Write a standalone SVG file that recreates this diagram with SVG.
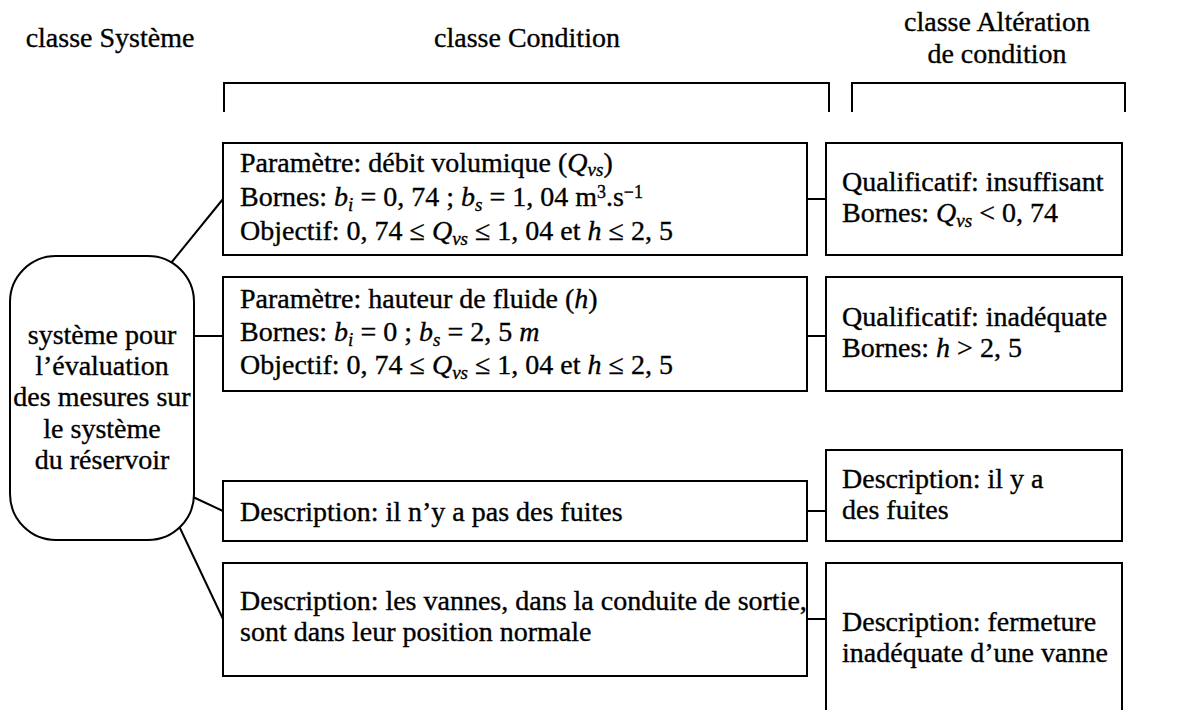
<svg xmlns="http://www.w3.org/2000/svg" width="1179" height="710" viewBox="0 0 1179 710">
<style>
text{font-family:"Liberation Serif","Times New Roman",serif;font-size:28px;fill:#000;stroke:#000;stroke-width:0.35}
.c{text-anchor:middle}
.i{font-style:italic}
.sub{font-style:italic;font-size:19px}
.sup{font-size:18px}
.box{fill:#fff;stroke:#000;stroke-width:2}
.ln{fill:none;stroke:#000;stroke-width:2}
</style>
<rect width="1179" height="710" fill="#fff"/>
<g id="headers">
<text class="c" x="110" y="47">classe Système</text>
<text class="c" x="527" y="47">classe Condition</text>
<text class="c" x="997" y="31">classe Altération</text>
<text class="c" x="997" y="63">de condition</text>
<path class="ln" d="M224,112 V83 H829 V112"/>
<path class="ln" d="M852,112 V83 H1125 V112"/>
</g>
<g id="connectors">
<line class="ln" x1="171" y1="263" x2="223" y2="199"/>
<line class="ln" x1="194" y1="336" x2="223" y2="336"/>
<line class="ln" x1="193" y1="497" x2="223" y2="511"/>
<line class="ln" x1="179" y1="526" x2="223" y2="619"/>
<line class="ln" x1="807" y1="199" x2="826" y2="199"/>
<line class="ln" x1="807" y1="336" x2="826" y2="336"/>
<line class="ln" x1="807" y1="511" x2="826" y2="511"/>
<line class="ln" x1="807" y1="619" x2="826" y2="619"/>
</g>
<g id="systeme">
<rect class="box" x="10" y="256" width="184" height="284" rx="46" ry="46"/>
<text class="c" x="102" y="344">système pour</text>
<text class="c" x="102" y="375">l’évaluation</text>
<text class="c" x="102" y="406">des mesures sur</text>
<text class="c" x="102" y="438">le système</text>
<text class="c" x="102" y="469">du réservoir</text>
</g>
<g id="cond1">
<rect class="box" x="223" y="143" width="584" height="112"/>
<text x="240" y="172">Paramètre: débit volumique (<tspan class="i">Q</tspan><tspan class="sub" dy="4">vs</tspan><tspan dy="-4">)</tspan></text>
<text x="240" y="206">Bornes: <tspan class="i">b</tspan><tspan class="sub" dy="5">i</tspan><tspan dy="-5"> = 0, 74 ; </tspan><tspan class="i">b</tspan><tspan class="sub" dy="5">s</tspan><tspan dy="-5"> = 1, 04 m</tspan><tspan class="sup" dy="-8">3</tspan><tspan dy="8">.s</tspan><tspan class="sup" dy="-8">−1</tspan></text>
<text x="240" y="240">Objectif: 0, 74 ≤ <tspan class="i">Q</tspan><tspan class="sub" dy="5">vs</tspan><tspan dy="-5"> ≤ 1, 04 et </tspan><tspan class="i">h</tspan> ≤ 2, 5</text>
</g>
<g id="alt1">
<rect class="box" x="826" y="143" width="296" height="112"/>
<text x="842" y="191">Qualificatif: insuffisant</text>
<text x="842" y="222">Bornes: <tspan class="i">Q</tspan><tspan class="sub" dy="5">vs</tspan><tspan dy="-5"> &lt; 0, 74</tspan></text>
</g>
<g id="cond2">
<rect class="box" x="223" y="277" width="584" height="114"/>
<text x="240" y="308">Paramètre: hauteur de fluide (<tspan class="i">h</tspan>)</text>
<text x="240" y="341">Bornes: <tspan class="i">b</tspan><tspan class="sub" dy="5">i</tspan><tspan dy="-5"> = 0 ; </tspan><tspan class="i">b</tspan><tspan class="sub" dy="5">s</tspan><tspan dy="-5"> = 2, 5 </tspan><tspan class="i">m</tspan></text>
<text x="240" y="374">Objectif: 0, 74 ≤ <tspan class="i">Q</tspan><tspan class="sub" dy="5">vs</tspan><tspan dy="-5"> ≤ 1, 04 et </tspan><tspan class="i">h</tspan> ≤ 2, 5</text>
</g>
<g id="alt2">
<rect class="box" x="826" y="277" width="296" height="114"/>
<text x="842" y="326">Qualificatif: inadéquate</text>
<text x="842" y="357">Bornes: <tspan class="i">h</tspan> &gt; 2, 5</text>
</g>
<g id="cond3">
<rect class="box" x="223" y="481" width="584" height="60"/>
<text x="240" y="521">Description: il n’y a pas des fuites</text>
</g>
<g id="alt3">
<rect class="box" x="826" y="450" width="296" height="91"/>
<text x="842" y="488">Description: il y a</text>
<text x="842" y="519">des fuites</text>
</g>
<g id="cond4">
<rect class="box" x="223" y="563" width="584" height="113"/>
<text x="240" y="610">Description: les vannes, dans la conduite de sortie,</text>
<text x="240" y="641">sont dans leur position normale</text>
</g>
<g id="alt4">
<path class="ln" d="M826,712 V563 H1122 V712"/>
<text x="842" y="631">Description: fermeture</text>
<text x="842" y="662">inadéquate d’une vanne</text>
</g>
</svg>
